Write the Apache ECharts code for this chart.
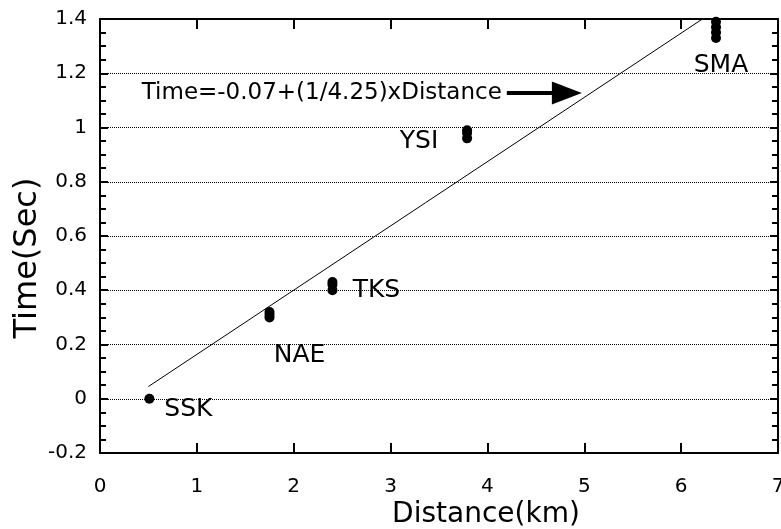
<!DOCTYPE html>
<html>
<head>
	<meta charset="UTF-8">
	<title>Time vs Distance</title>
	<style>
		html, body { margin: 0; padding: 0; background: #fff; }
		#main { width: 781px; height: 529px; }
	</style>
</head>
<body>
	<div id="main"></div>
	<script src="https://cdn.jsdelivr.net/npm/echarts@6/dist/echarts.min.js"></script>
	<script type="text/javascript">

		// stations and picks
		var stations = ['SSK', 'NAE', 'TKS', 'YSI', 'SMA'];
		var distanceKm = [0.51, 1.75, 2.40, 3.79, 6.36];
		var timeSec = [
			[0.00],
			[0.30, 0.31, 0.32],
			[0.40, 0.42, 0.43],
			[0.96, 0.98, 0.99],
			[1.33, 1.35, 1.37, 1.39]
		];
		// fitted line, end points
		var fitLine = [[0.5, 0.045], [6.22, 1.4]];
		var fitText = 'Time=-0.07+(1/4.25)xDistance';
		var arrowFrom = [4.2, 1.127];
		var arrowTo = [4.82, 1.127];

		// label offsets (px) from the station's first point
		var labelShift = {
			SSK: [39, 11],
			NAE: [30, 38],
			TKS: [44, 0],
			YSI: [-48, 3],
			SMA: [5, 28]
		};

		var font = 'DejaVu Sans';
		var myChart = echarts.init(document.getElementById('main'));

		var points = [];
		for (var i = 0; i < stations.length; i++) {
			for (var j = 0; j < timeSec[i].length; j++) {
				var p = { value: [distanceKm[i], timeSec[i][j]] };
				if (j == 0) {
					p.label = {
						show: true,
						formatter: stations[i],
						position: 'inside',
						offset: labelShift[stations[i]]
					};
				}
				points.push(p);
			}
		}

		var frameLine = { show: true, onZero: false, lineStyle: { color: '#000', width: 2 } };

		var option = {
			animation: false,
			backgroundColor: '#fff',
			grid: { left: 100, right: 3, top: 19, bottom: 76, containLabel: false, outerBoundsMode: 'none' },
			xAxis: [{
				type: 'value',
				min: 0, max: 7, interval: 1,
				name: 'Distance(km)',
				nameLocation: 'middle',
				nameGap: 48,
				nameMoveOverlap: false,
				nameTextStyle: { fontFamily: font, fontSize: 28, color: '#000', padding: [0, 0, 0, 94] },
				axisLine: frameLine,
				axisTick: { inside: true, length: 10, lineStyle: { color: '#000', width: 2 } },
				axisLabel: { fontFamily: font, fontSize: 20, color: '#000', margin: 24 },
				splitLine: { show: false }
			}, {
				type: 'value',
				position: 'top',
				min: 0, max: 7, interval: 1,
				axisLine: frameLine,
				axisTick: { inside: true, length: 10, lineStyle: { color: '#000', width: 2 } },
				axisLabel: { show: false },
				splitLine: { show: false }
			}],
			yAxis: [{
				type: 'value',
				min: -0.2, max: 1.4, interval: 0.2,
				name: 'Time(Sec)',
				nameLocation: 'middle',
				nameGap: 56,
				nameMoveOverlap: false,
				nameTextStyle: { fontFamily: font, fontSize: 32, color: '#000', padding: [0, 44, 0, 0] },
				axisLine: frameLine,
				axisTick: { inside: true, length: 8, lineStyle: { color: '#000', width: 2 } },
				minorTick: { show: true, splitNumber: 4, length: 6, lineStyle: { color: '#000', width: 2 } },
				axisLabel: { fontFamily: font, fontSize: 20, color: '#000', margin: 13 },
				splitLine: { show: true, lineStyle: { color: '#000', type: 'dotted', width: 1 } }
			}, {
				type: 'value',
				position: 'right',
				min: -0.2, max: 1.4, interval: 0.2,
				axisLine: frameLine,
				axisTick: { inside: true, length: 8, lineStyle: { color: '#000', width: 2 } },
				minorTick: { show: true, splitNumber: 4, length: 6, lineStyle: { color: '#000', width: 2 } },
				axisLabel: { show: false },
				splitLine: { show: false }
			}],
			series: [{
				type: 'line',
				data: fitLine,
				symbol: 'none',
				lineStyle: { color: '#000', width: 1 },
				silent: true,
				markLine: {
					silent: true,
					symbol: ['none', 'triangle'],
					symbolSize: [23, 30],
					lineStyle: { color: '#000', width: 4, type: 'solid' },
					label: {
						show: true,
						position: 'start',
						distance: 5,
						formatter: fitText,
						fontFamily: font,
						fontSize: 23,
						color: '#000'
					},
					data: [[{ coord: arrowFrom }, { coord: arrowTo }]]
				}
			}, {
				type: 'scatter',
				data: points,
				symbol: 'circle',
				symbolSize: 10,
				itemStyle: { color: '#000', opacity: 1 },
				label: { fontFamily: font, fontSize: 25, color: '#000' }
			}]
		};

		myChart.setOption(option);

	</script>
</body>
</html>
